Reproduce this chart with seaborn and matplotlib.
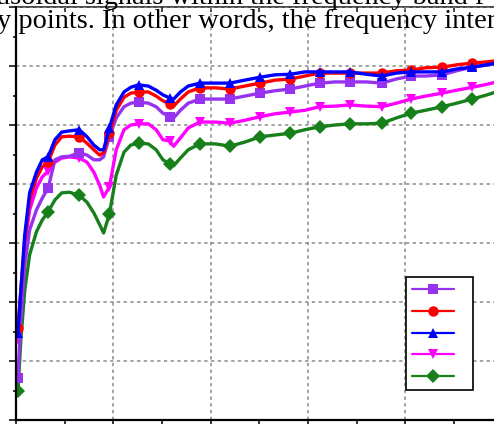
import matplotlib
matplotlib.use("Agg")
import matplotlib.pyplot as plt
import seaborn as sns
import numpy as np
from matplotlib.ticker import MultipleLocator

# VALUES (x: 0..5, y: 0..70)

freq = [0.02, 0.05, 0.09, 0.14, 0.21, 0.27, 0.33, 0.40, 0.47, 0.55,
        0.65, 0.73, 0.80, 0.86, 0.90, 0.96, 1.03, 1.11, 1.18, 1.26,
        1.36, 1.44, 1.51, 1.58, 1.62, 1.69, 1.77, 1.89, 2.05, 2.20,
        2.35, 2.51, 2.66, 2.82, 2.97, 3.12, 3.28, 3.43, 3.60, 3.76,
        3.91, 4.06, 4.21, 4.38, 4.53, 4.69, 4.84, 4.99]

purple_vals = [7.1, 16.9, 26.3, 32.2, 35.6, 37.6, 39.3, 44.1, 44.6, 44.7,
               45.3, 44.9, 44.1, 44.1, 44.6, 48.0, 51.2, 53.1, 53.7, 53.9,
               53.7, 53.1, 52.0, 51.4, 51.2, 52.5, 53.7, 54.4, 54.4, 54.4,
               54.9, 55.4, 55.8, 56.1, 56.6, 57.1, 57.3, 57.3, 57.3, 57.1,
               57.8, 58.3, 58.3, 58.5, 59.2, 59.8, 60.2, 60.5]

red_vals = [15.6, 22.0, 30.5, 37.3, 41.0, 42.9, 43.7, 46.6, 48.0, 48.1,
            48.0, 46.9, 45.8, 44.9, 45.3, 48.6, 52.5, 54.7, 55.4, 55.6,
            55.6, 54.9, 54.1, 53.6, 53.2, 54.4, 55.6, 56.3, 56.3, 56.1,
            56.6, 57.1, 57.6, 57.8, 58.3, 58.8, 58.8, 58.8, 58.8, 58.8,
            59.2, 59.3, 59.7, 59.8, 60.2, 60.5, 60.7, 61.0]

blue_vals = [14.7, 22.0, 31.4, 38.5, 42.0, 44.1, 44.6, 47.5, 48.8, 49.0,
             49.2, 48.0, 46.6, 45.8, 45.8, 49.5, 53.4, 55.6, 56.4, 56.8,
             56.6, 55.9, 55.1, 54.6, 54.4, 55.6, 56.6, 57.1, 57.1, 57.1,
             57.6, 58.1, 58.5, 58.6, 59.0, 59.0, 59.0, 59.0, 58.6, 58.3,
             58.8, 59.0, 59.0, 59.0, 59.5, 59.8, 60.2, 60.7]

magenta_vals = [13.6, 21.2, 29.7, 35.6, 39.3, 41.2, 42.2, 43.7, 44.4, 44.6,
                44.4, 43.7, 42.0, 39.8, 37.8, 39.5, 45.8, 49.2, 50.0, 50.2,
                50.2, 49.2, 47.5, 47.3, 46.4, 47.8, 49.5, 50.5, 50.5, 50.3,
                50.8, 51.4, 51.9, 52.2, 52.5, 53.1, 53.2, 53.4, 53.2, 53.1,
                53.7, 54.4, 54.9, 55.4, 55.9, 56.4, 56.9, 57.5]

green_vals = [4.9, 13.6, 22.0, 28.0, 31.9, 33.9, 35.3, 37.3, 38.5, 38.6,
              38.1, 36.9, 35.1, 33.1, 31.7, 34.9, 41.5, 45.4, 46.6, 46.9,
              46.8, 45.8, 44.1, 43.4, 43.1, 44.4, 45.8, 46.8, 46.8, 46.4,
              47.1, 48.0, 48.3, 48.6, 49.2, 49.7, 50.0, 50.2, 50.2, 50.3,
              51.2, 52.0, 52.5, 53.1, 53.7, 54.4, 55.1, 55.9]

# which samples carry a marker
marker_idx = [0, 6, 10, 15, 19, 23, 27, 29, 31, 33, 35, 37, 39, 41, 43, 45, 47]

# page text that overlaps the crop
text_line1 = "usoidal signals within the frequency band f"
text_line2 = "y points. In other words, the frequency inter"

sns.set_style("ticks")

fig = plt.figure(figsize=(4.94, 4.26), dpi=100)
ax = fig.add_axes([16 / 494, 6 / 426, 486.5 / 494, 413 / 426])

# draw order: bottom curve first, blue on top
series = [
    ("green", green_vals, "#17801a", "D"),
    ("magenta", magenta_vals, "#ff00ff", "v"),
    ("purple", purple_vals, "#9632f0", "s"),
    ("red", red_vals, "#ff0000", "o"),
    ("blue", blue_vals, "#0000ff", "^"),
]
lines = {}
for name, vals, col, mk in series:
    sns.lineplot(x=freq, y=vals, ax=ax, color=col, linewidth=2.4,
                 marker=mk, markersize=7.5, markeredgewidth=0,
                 markevery=marker_idx, sort=False)
    lines[name] = ax.get_lines()[-1]

ax.set_xlim(0, 5)
ax.set_ylim(0, 70)
ax.xaxis.set_major_locator(MultipleLocator(1))
ax.xaxis.set_minor_locator(MultipleLocator(0.5))
ax.yaxis.set_major_locator(MultipleLocator(10))
ax.yaxis.set_minor_locator(MultipleLocator(5))
ax.grid(True, which="major", color="#8a8a8a", linestyle=(0, (2.2, 2.2)), linewidth=1.1)
ax.set_axisbelow(True)

ax.tick_params(axis="y", which="major", direction="out", length=5, width=1.3, labelleft=False)
ax.tick_params(axis="y", which="minor", direction="out", length=2.5, width=1.3)
ax.tick_params(axis="x", which="both", direction="out", length=3, width=1.3, labelbottom=False)
for s in ["left", "bottom"]:
    ax.spines[s].set_linewidth(1.6)
    ax.spines[s].set_color("black")
ax.spines["right"].set_visible(False)
ax.spines["top"].set_visible(False)

top = ax.secondary_xaxis("top")
top.xaxis.set_major_locator(MultipleLocator(1))
top.xaxis.set_minor_locator(MultipleLocator(0.5))
top.tick_params(which="both", direction="in", length=3.5, width=1.2, labeltop=False)
top.spines["top"].set_linewidth(1.2)

# legend with markers only
order = ["purple", "red", "blue", "magenta", "green"]
leg = ax.legend([lines[n] for n in order], [" "] * 5,
                loc="upper left", bbox_to_anchor=(406 / 494, 1 - 277 / 426),
                bbox_transform=fig.transFigure, borderaxespad=0,
                fontsize=10, handlelength=3.0, handletextpad=0.6,
                labelspacing=0.55, borderpad=0.45,
                frameon=True, fancybox=False, framealpha=1)
leg.get_frame().set_edgecolor("black")
leg.get_frame().set_linewidth(1.2)
for h in leg.legend_handles:
    h.set_markevery([1])
    h.set_linewidth(1.6)

fig.text(-4 / 494, 1 - 4 / 426, text_line1, family="Liberation Serif",
         fontsize=20.4, va="baseline", ha="left", color="black", zorder=10)
fig.text(-3 / 494, 1 - 28 / 426, text_line2, family="Liberation Serif",
         fontsize=20.4, va="baseline", ha="left", color="black", zorder=10)

fig.savefig("out.png", dpi=100)
plt.close(fig)
